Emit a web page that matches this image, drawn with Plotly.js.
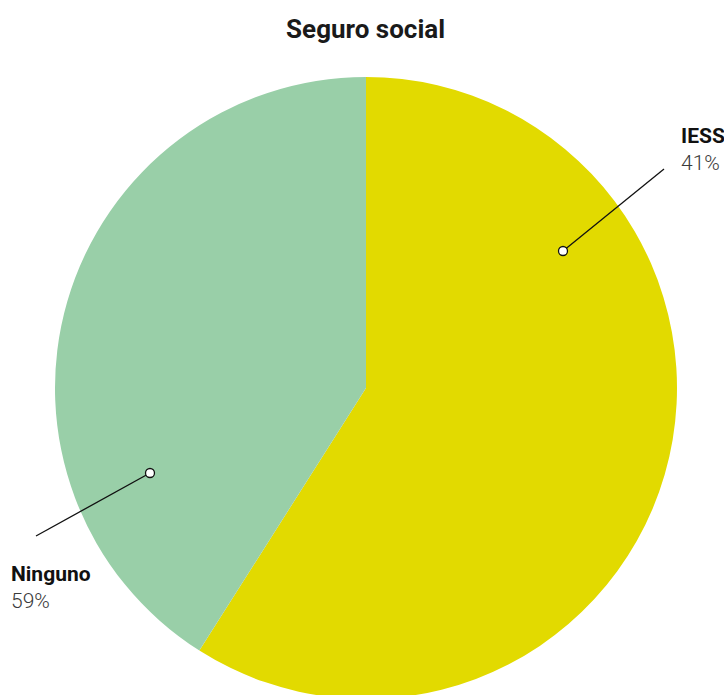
<!DOCTYPE html>
<html>
<head>
<meta charset="utf-8">
<script src="https://cdn.plot.ly/plotly-3.0.1.min.js"></script>
<style>
html,body{margin:0;padding:0;overflow:hidden;background:#fff;width:724px;height:695px;}
#chart{width:724px;height:760px;}
</style>
</head>
<body>
<div id="chart"></div>
<script>
// Slices as drawn (yellow first, clockwise from 12 o'clock)
const sliceNames = ["IESS", "Ninguno"];
const sliceValues = [59, 41];
const sliceColors = ["#E2DA00", "#99CFA8"];
// Callout labels as printed on the chart
const calloutNames = ["IESS", "Ninguno"];
const calloutPercents = ["41%", "59%"];

const W = 724, H = 760;
const px = x => x / W;
const py = y => 1 - y / H;

// pie geometry (pixels)
const cx = 366, cy = 388, r = 311;

// callout geometry (pixels): dot, line end, text anchor
const callouts = [
  {dot: [563, 251], end: [664, 169], tx: 679, ty: 136},
  {dot: [150, 473], end: [36, 536], tx: 9, ty: 574}
];

const shapes = [];
const annotations = [];
callouts.forEach((c, i) => {
  shapes.push({type: 'line', xref: 'paper', yref: 'paper',
    x0: px(c.dot[0]), y0: py(c.dot[1]), x1: px(c.end[0]), y1: py(c.end[1]),
    line: {color: '#111', width: 1.3}});
  shapes.push({type: 'circle', xref: 'paper', yref: 'paper',
    x0: px(c.dot[0] - 4.5), x1: px(c.dot[0] + 4.5), y0: py(c.dot[1] + 4.5), y1: py(c.dot[1] - 4.5),
    fillcolor: '#fff', line: {color: '#111', width: 1.3}});
  annotations.push({xref: 'paper', yref: 'paper', x: px(c.tx), y: py(c.ty),
    xanchor: 'left', yanchor: 'middle', showarrow: false,
    text: '<b>' + calloutNames[i] + '</b>',
    font: {family: 'Roboto, sans-serif', size: 21, color: '#111'}});
  annotations.push({xref: 'paper', yref: 'paper', x: px(c.tx), y: py(c.ty + 27),
    xanchor: 'left', yanchor: 'middle', showarrow: false,
    text: calloutPercents[i],
    font: {family: 'Roboto, sans-serif', size: 21, color: '#3a3a3a', weight: 300}});
});

const data = [{
  type: 'pie',
  labels: sliceNames,
  values: sliceValues,
  sort: false,
  direction: 'clockwise',
  rotation: 0,
  marker: {colors: sliceColors, line: {width: 0}},
  textinfo: 'none',
  hoverinfo: 'label+percent',
  showlegend: false,
  domain: {x: [(cx - r) / W, (cx + r) / W], y: [1 - (cy + r) / H, 1 - (cy - r) / H]}
}];

const layout = {
  width: W, height: H,
  margin: {l: 0, r: 0, t: 0, b: 0},
  paper_bgcolor: '#fff',
  showlegend: false,
  title: {text: '<b>Seguro social</b>', x: 0.505, xanchor: 'center', y: py(29), yanchor: 'middle',
    font: {family: 'Roboto, sans-serif', size: 26, color: '#1a1a1a'}},
  shapes: shapes,
  annotations: annotations
};

Plotly.newPlot('chart', data, layout, {displayModeBar: false, staticPlot: true});
</script>
</body>
</html>
